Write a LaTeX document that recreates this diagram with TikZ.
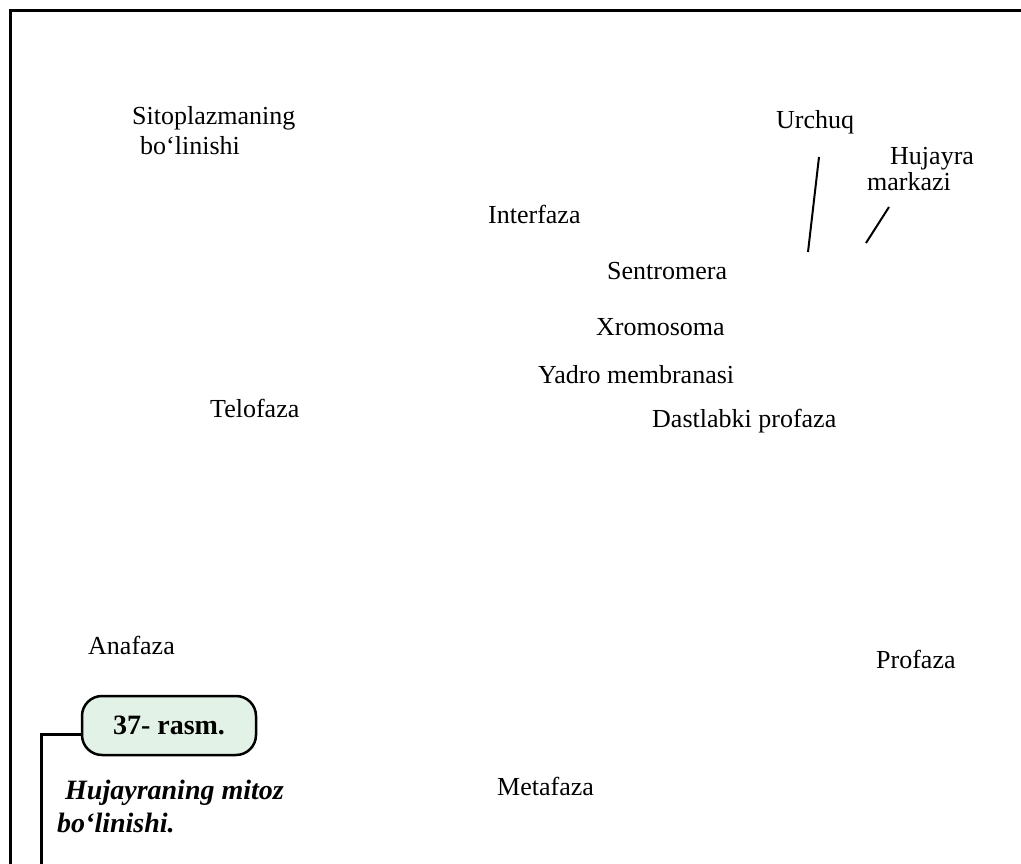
\documentclass[tikz,border=0pt]{standalone}
\usepackage{fontspec}
\setmainfont{Liberation Serif}
\definecolor{tagfill}{HTML}{E2F2E6}
\begin{document}
\begin{tikzpicture}[x=1pt,y=-1pt,
  lbl/.style={anchor=base west,inner sep=0pt,font=\fontsize{26}{30}\selectfont},
  captext/.style={anchor=base west,inner sep=0pt,font=\bfseries\itshape\fontsize{28}{32}\selectfont},
  ptr/.style={line width=2pt},
  frame/.style={line width=3pt},
  tagbox/.style={draw,line width=2.5pt,rounded corners=20pt,fill=tagfill,
    minimum width=174pt,minimum height=59pt,inner sep=0pt,
    font=\bfseries\fontsize{28}{30}\selectfont}]
\useasboundingbox (0,0) rectangle (1021,864);
% frame
\draw[frame] (1021,10.5) -- (10.5,10.5) -- (10.5,864);
% labels
\node[lbl] (sito1) at (132,125) {Sitoplazmaning};
\node[lbl] (sito2) at (140,155) {bo‘linishi};
\node[lbl] (urchuq) at (776,129) {Urchuq};
\node[lbl] (hm1) at (890,165) {Hujayra};
\node[lbl] (hm2) at (867,190) {markazi};
\node[lbl] (inter) at (488,223) {Interfaza};
\node[lbl] (sentr) at (607,279) {Sentromera};
\node[lbl] (xrom) at (596,335) {Xromosoma};
\node[lbl] (yadro) at (538,383) {Yadro membranasi};
\node[lbl] (dast) at (652,427) {Dastlabki profaza};
\node[lbl] (telo) at (210,417) {Telofaza};
\node[lbl] (ana) at (88,654) {Anafaza};
\node[lbl] (pro) at (876,668) {Profaza};
\node[lbl] (meta) at (497,795) {Metafaza};
% pointer lines
\coordinate (u1) at (819,157);
\coordinate (u2) at (808,252);
\coordinate (h1) at (889,207);
\coordinate (h2) at (866,243);
\draw[ptr] (u1) -- (u2);
\draw[ptr] (h1) -- (h2);
% figure tag
\node[tagbox] (tag) at (169,725.5) {37- rasm.};
\coordinate (cend) at (41.5,864);
\draw[frame] ([yshift=-8.5pt]tag.west) -| (cend);
\node[captext] (cap1) at (65,799) {Hujayraning mitoz};
\node[captext] (cap2) at (57,832) {bo‘linishi.};
\end{tikzpicture}
\end{document}
